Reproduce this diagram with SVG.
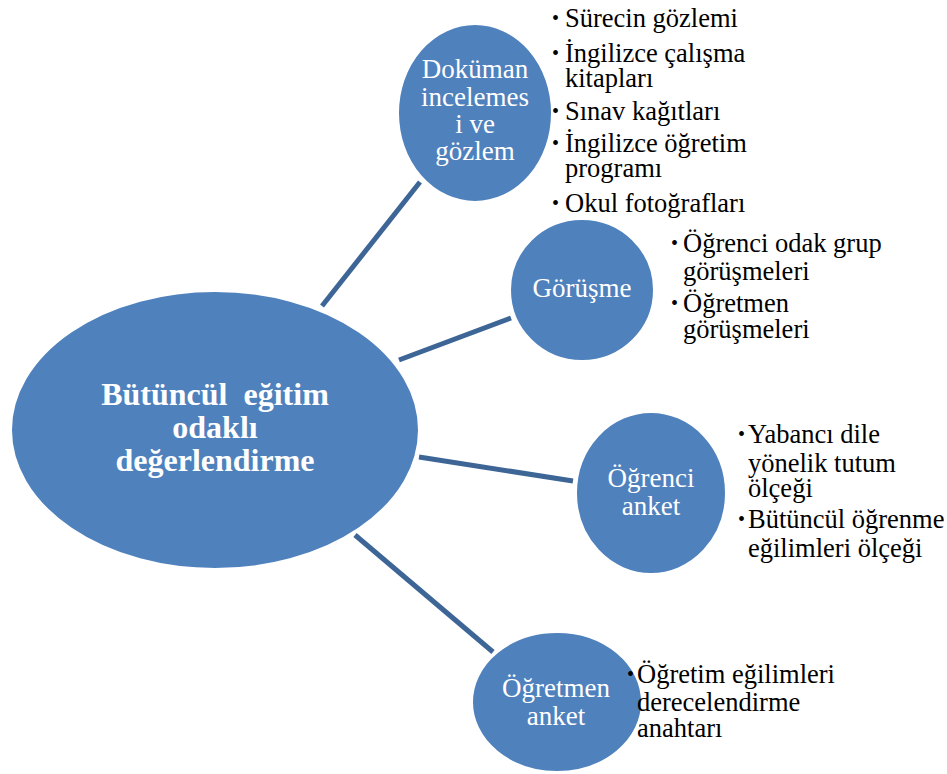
<svg xmlns="http://www.w3.org/2000/svg" width="947" height="774" viewBox="0 0 947 774">
<rect width="947" height="774" fill="#ffffff"/>
<g id="connectors" stroke="#3d6696" stroke-width="5" fill="none">
<line x1="322" y1="306" x2="420" y2="182"/>
<line x1="399" y1="360" x2="511" y2="318"/>
<line x1="419" y1="457" x2="573" y2="481"/>
<line x1="355" y1="535" x2="493" y2="652"/>
</g>
<g id="center">
<ellipse cx="215" cy="430" rx="204" ry="139" fill="#4f81bd" stroke="#ffffff" stroke-width="2"/>
<g fill="#ffffff" text-anchor="middle" font-size="32" font-weight="bold">
<text font-family="Liberation Serif" x="215" y="405" xml:space="preserve">Bütüncül  eğitim</text>
<text font-family="Liberation Serif" x="215" y="438">odaklı</text>
<text font-family="Liberation Serif" x="215" y="471">değerlendirme</text>
</g>
</g>
<g id="dokuman">
<ellipse cx="475" cy="113" rx="77" ry="89" fill="#4f81bd" stroke="#ffffff" stroke-width="2"/>
<g fill="#ffffff" text-anchor="middle" font-size="27">
<text font-family="Liberation Serif" x="475" y="78">Doküman</text>
<text font-family="Liberation Serif" x="475" y="106">incelemes</text>
<text font-family="Liberation Serif" x="475" y="133">i ve</text>
<text font-family="Liberation Serif" x="475" y="160">gözlem</text>
</g>
</g>
<g id="dokuman-list" fill="#000000" font-size="26.5">
<text font-family="Liberation Serif" font-size="20" x="552" y="25">•</text><text font-family="Liberation Serif" x="565" y="27">Sürecin gözlemi</text>
<text font-family="Liberation Serif" font-size="20" x="552" y="60">•</text><text font-family="Liberation Serif" x="565" y="62">İngilizce çalışma</text>
<text font-family="Liberation Serif" x="565" y="87">kitapları</text>
<text font-family="Liberation Serif" font-size="20" x="552" y="118">•</text><text font-family="Liberation Serif" x="565" y="120">Sınav kağıtları</text>
<text font-family="Liberation Serif" font-size="20" x="552" y="150">•</text><text font-family="Liberation Serif" x="565" y="152">İngilizce öğretim</text>
<text font-family="Liberation Serif" x="565" y="177">programı</text>
<text font-family="Liberation Serif" font-size="20" x="552" y="210">•</text><text font-family="Liberation Serif" x="565" y="212">Okul fotoğrafları</text>
</g>
<g id="gorusme">
<ellipse cx="582" cy="290" rx="72" ry="71" fill="#4f81bd" stroke="#ffffff" stroke-width="2"/>
<text font-family="Liberation Serif" fill="#ffffff" text-anchor="middle" font-size="27" x="582" y="297">Görüşme</text>
</g>
<g id="gorusme-list" fill="#000000" font-size="26.5">
<text font-family="Liberation Serif" font-size="20" x="671" y="250">•</text><text font-family="Liberation Serif" x="683" y="252">Öğrenci odak grup</text>
<text font-family="Liberation Serif" x="683" y="280">görüşmeleri</text>
<text font-family="Liberation Serif" font-size="20" x="671" y="310">•</text><text font-family="Liberation Serif" x="683" y="312">Öğretmen</text>
<text font-family="Liberation Serif" x="683" y="338">görüşmeleri</text>
</g>
<g id="ogrenci">
<ellipse cx="651" cy="493" rx="75" ry="81" fill="#4f81bd" stroke="#ffffff" stroke-width="2"/>
<g fill="#ffffff" text-anchor="middle" font-size="27">
<text font-family="Liberation Serif" x="651" y="487">Öğrenci</text>
<text font-family="Liberation Serif" x="651" y="515">anket</text>
</g>
</g>
<g id="ogrenci-list" fill="#000000" font-size="26.5">
<text font-family="Liberation Serif" font-size="20" x="738" y="441">•</text><text font-family="Liberation Serif" x="748" y="443">Yabancı dile</text>
<text font-family="Liberation Serif" x="748" y="472">yönelik tutum</text>
<text font-family="Liberation Serif" x="748" y="497">ölçeği</text>
<text font-family="Liberation Serif" font-size="20" x="738" y="526">•</text><text font-family="Liberation Serif" x="748" y="528">Bütüncül öğrenme</text>
<text font-family="Liberation Serif" x="748" y="557">eğilimleri ölçeği</text>
</g>
<g id="ogretmen">
<ellipse cx="557" cy="702" rx="85" ry="70" fill="#4f81bd" stroke="#ffffff" stroke-width="2"/>
<g fill="#ffffff" text-anchor="middle" font-size="27">
<text font-family="Liberation Serif" x="556" y="697">Öğretmen</text>
<text font-family="Liberation Serif" x="556" y="725">anket</text>
</g>
</g>
<g id="ogretmen-list" fill="#000000" font-size="26.5">
<text font-family="Liberation Serif" font-size="20" x="627" y="681">•</text><text font-family="Liberation Serif" x="637" y="683">Öğretim eğilimleri</text>
<text font-family="Liberation Serif" x="637" y="711">derecelendirme</text>
<text font-family="Liberation Serif" x="637" y="737">anahtarı</text>
</g>
</svg>
